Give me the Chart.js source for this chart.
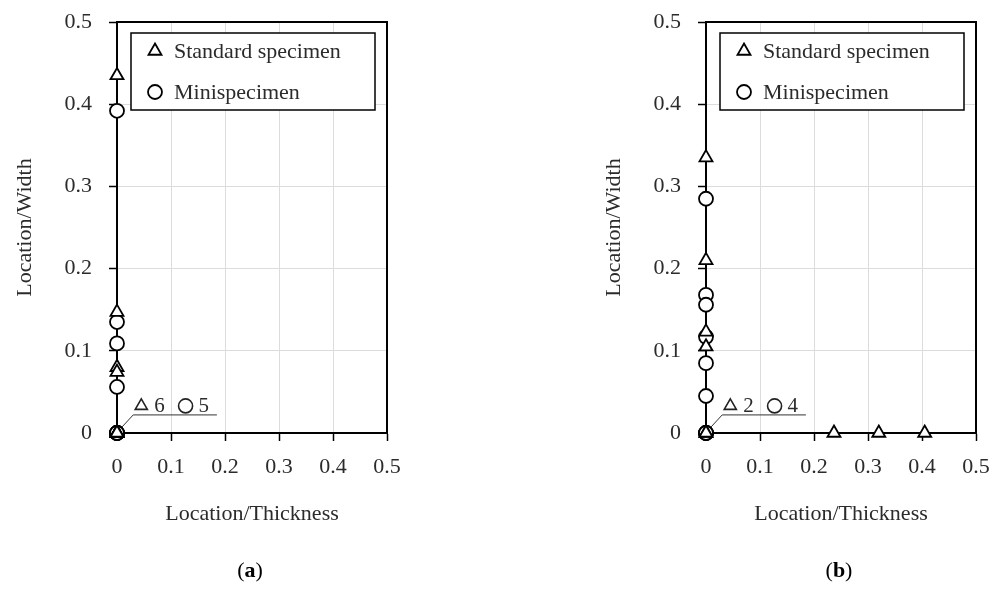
<!DOCTYPE html>
<html>
<head>
<meta charset="utf-8">
<script src="https://cdn.jsdelivr.net/npm/chart.js@4.4.0/dist/chart.umd.min.js"></script>
<style>
  html, body { margin: 0; padding: 0; background: #fff; }
  #wrap { position: relative; width: 991px; height: 597px; }
  #boxA, #boxB { position: absolute; top: 0; }
  #boxA { left: 0; }
  #boxB { left: 495px; }
</style>
</head>
<body>
<div id="wrap">
  <div id="boxA"><canvas id="chartA" width="495" height="597"></canvas></div>
  <div id="boxB"><canvas id="chartB" width="496" height="597"></canvas></div>
</div>
<script>
// data
const seriesNames = ['Standard specimen', 'Minispecimen'];
const axisTicks = [0, 0.1, 0.2, 0.3, 0.4, 0.5];

// (a)
const stdAx  = [0, 0, 0, 0, 0, 0, 0, 0, 0, 0];
const stdAy  = [0.435, 0.147, 0.080, 0.074, 0, 0, 0, 0, 0, 0];
const miniAx = [0, 0, 0, 0, 0, 0, 0, 0, 0];
const miniAy = [0.392, 0.135, 0.109, 0.056, 0, 0, 0, 0, 0];

// (b)
const stdBx  = [0, 0, 0, 0, 0.237, 0.320, 0.405, 0, 0];
const stdBy  = [0.335, 0.210, 0.123, 0.105, 0, 0, 0, 0, 0];
const miniBx = [0, 0, 0, 0, 0, 0, 0, 0, 0, 0];
const miniBy = [0.285, 0.168, 0.156, 0.117, 0.085, 0.045, 0, 0, 0, 0];

const FONT = 'Liberation Serif';
const TXT = '#2b2b2b';
const font = { family: FONT, size: 22 };

function pts(xs, ys) {
  return xs.map((x, i) => ({ x: x, y: ys[i] }));
}

function atOrigin(xs, ys) {
  return xs.filter((x, i) => x === 0 && ys[i] === 0).length;
}

// black frame on top and right of the plot area
const framePlugin = {
  id: 'frame',
  beforeDatasetsDraw(chart) {
    const { ctx, chartArea: a } = chart;
    ctx.save();
    ctx.strokeStyle = '#000';
    ctx.lineWidth = 2;
    ctx.beginPath();
    ctx.moveTo(a.left, a.top);
    ctx.lineTo(a.right, a.top);
    ctx.lineTo(a.right, a.bottom);
    ctx.stroke();
    ctx.restore();
  }
};

// legend box inside the plot, count note at the origin, caption under the chart
const extrasPlugin = {
  id: 'extras',
  afterDatasetsDraw(chart, args, opts) {
    const { ctx, chartArea: a } = chart;
    const xs = chart.scales.x, ys = chart.scales.y;
    const ds = chart.data.datasets;
    ctx.save();

    // legend
    const lx = a.left + 14, ly = a.top + 11, lw = 244, lh = 77;
    ctx.fillStyle = '#fff';
    ctx.fillRect(lx, ly, lw, lh);
    ctx.strokeStyle = '#000';
    ctx.lineWidth = 1.5;
    ctx.strokeRect(lx, ly, lw, lh);
    ctx.font = '22px "' + FONT + '"';
    ctx.textBaseline = 'middle';
    ctx.textAlign = 'left';
    ds.forEach((d, i) => {
      const cy = ly + 18 + i * 41;
      ctx.strokeStyle = '#000';
      ctx.fillStyle = '#fff';
      ctx.lineWidth = 1.8;
      Chart.helpers.drawPoint(ctx, { pointStyle: d.pointStyle, radius: d.pointRadius, borderWidth: 1.8 }, lx + 24, cy);
      ctx.fillStyle = TXT;
      ctx.fillText(d.label, lx + 43, cy + 1);
    });

    // note with the number of points at the origin
    const ox = xs.getPixelForValue(0), oy = ys.getPixelForValue(0);
    const ux1 = xs.getPixelForValue(0.03), ux2 = xs.getPixelForValue(0.185);
    const uy = ys.getPixelForValue(0.022);
    ctx.strokeStyle = '#333';
    ctx.lineWidth = 1;
    ctx.beginPath();
    ctx.moveTo(ox + 5, oy - 6);
    ctx.lineTo(ux1, uy);
    ctx.lineTo(ux2, uy);
    ctx.stroke();
    const base = uy - 3;
    const cols = [0.045, 0.127];
    ctx.font = '21px "' + FONT + '"';
    ds.forEach((d, i) => {
      const sx = xs.getPixelForValue(cols[i]);
      ctx.strokeStyle = '#222';
      ctx.fillStyle = '#fff';
      ctx.lineWidth = 1.6;
      Chart.helpers.drawPoint(ctx, { pointStyle: d.pointStyle, radius: 7, borderWidth: 1.6 }, sx, base - 6);
      ctx.fillStyle = TXT;
      ctx.textBaseline = 'alphabetic';
      ctx.fillText(String(opts.counts[i]), sx + 13, base);
    });

    // caption (a) / (b)
    const cx = (a.left + a.right) / 2 - 2, cyc = 571;
    ctx.textBaseline = 'middle';
    ctx.fillStyle = '#000';
    const pn = '22px "' + FONT + '"', pb = 'bold 22px "' + FONT + '"';
    ctx.font = pn; const w1 = ctx.measureText('(').width;
    ctx.font = pb; const w2 = ctx.measureText(opts.caption).width;
    ctx.font = pn; const w3 = ctx.measureText(')').width;
    const x0 = cx - (w1 + w2 + w3) / 2;
    ctx.textAlign = 'left';
    ctx.font = pn; ctx.fillText('(', x0, cyc);
    ctx.font = pb; ctx.fillText(opts.caption, x0 + w1, cyc);
    ctx.font = pn; ctx.fillText(')', x0 + w1 + w2, cyc);
    ctx.restore();
  }
};

// keep the plot box where the picture has it, labels may overhang the padding
function noLabelPadding(s) {
  s.paddingTop = 0;
  s.paddingBottom = 0;
  s.paddingLeft = 0;
  s.paddingRight = 0;
}

function makeChart(id, std, mini, caption, pad) {
  const counts = [atOrigin(std[0], std[1]), atOrigin(mini[0], mini[1])];
  const tickLabel = v => (v === 0 ? '0' : v.toFixed(1));
  return new Chart(document.getElementById(id), {
    type: 'scatter',
    data: {
      datasets: [
        {
          label: seriesNames[0],
          data: pts(std[0], std[1]),
          pointStyle: 'triangle',
          pointRadius: 7.5,
          pointBorderWidth: 1.8,
          borderColor: '#000',
          backgroundColor: '#fff',
          clip: false
        },
        {
          label: seriesNames[1],
          data: pts(mini[0], mini[1]),
          pointStyle: 'circle',
          pointRadius: 7,
          pointBorderWidth: 1.8,
          borderColor: '#000',
          backgroundColor: '#fff',
          clip: false
        }
      ]
    },
    options: {
      responsive: false,
      animation: false,
      layout: { padding: pad },
      plugins: {
        legend: { display: false },
        tooltip: { enabled: false },
        extras: { counts: counts, caption: caption }
      },
      scales: {
        x: {
          type: 'linear',
          min: 0, max: 0.5,
          afterBuildTicks: s => { s.ticks = axisTicks.map(v => ({ value: v })); },
          afterFit: s => { s.height = 98; noLabelPadding(s); },
          ticks: { callback: tickLabel, font: font, color: TXT, padding: 13, maxRotation: 0 },
          grid: { color: '#dcdcdc', lineWidth: 1, tickColor: '#000', tickLength: 8, tickWidth: 1.5 },
          border: { color: '#000', width: 2 },
          title: { display: true, text: 'Location/Thickness', font: font, color: TXT }
        },
        y: {
          type: 'linear',
          min: 0, max: 0.5,
          afterBuildTicks: s => { s.ticks = axisTicks.map(v => ({ value: v })); },
          afterFit: s => { s.width = 109; noLabelPadding(s); },
          ticks: { callback: tickLabel, font: font, color: TXT, padding: 17 },
          grid: { color: '#dcdcdc', lineWidth: 1, tickColor: '#000', tickLength: 8, tickWidth: 1.5 },
          border: { color: '#000', width: 2 },
          title: { display: true, text: 'Location/Width', font: font, color: TXT }
        }
      }
    },
    plugins: [framePlugin, extrasPlugin]
  });
}

makeChart('chartA', [stdAx, stdAy], [miniAx, miniAy], 'a', { left: 8, right: 108, top: 22, bottom: 66 });
makeChart('chartB', [stdBx, stdBy], [miniBx, miniBy], 'b', { left: 102, right: 15, top: 22, bottom: 66 });
</script>
</body>
</html>
